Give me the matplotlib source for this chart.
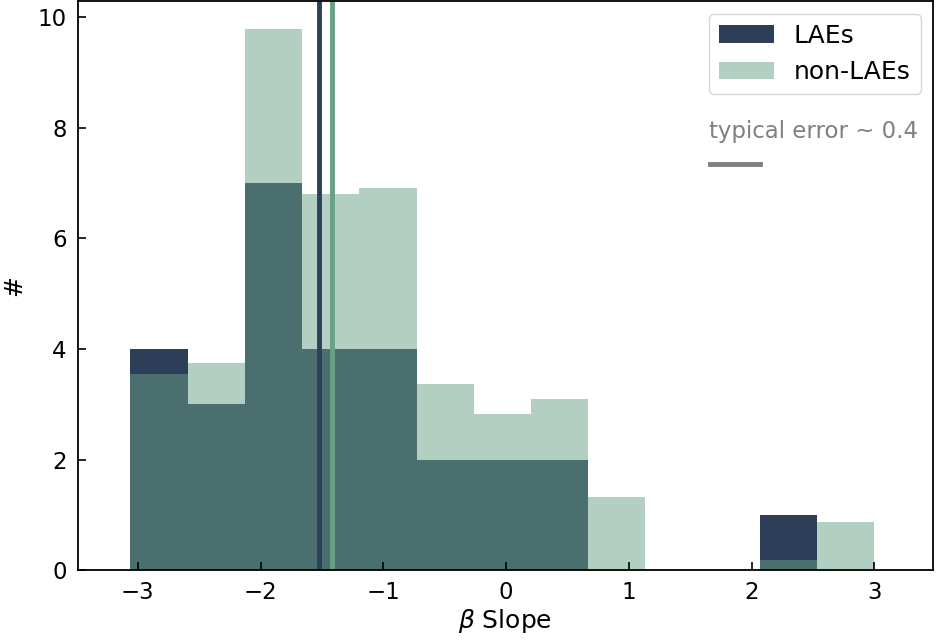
import numpy as np
import matplotlib.pyplot as plt

# histogram bins shared by both samples (13 bins from min to max slope)
bin_lo = -3.06
bin_hi = 3.0
n_bins = 13

# bar heights
lae_counts = [4, 3, 7, 4, 4, 2, 2, 2, 0, 0, 0, 1, 0]
nonlae_counts = [3.55, 3.75, 9.78, 6.81, 6.92, 3.37, 2.83, 3.10, 1.32, 0, 0, 0.18, 0.865]

lae_median = -1.52
nonlae_median = -1.42

err_text = "typical error ~ 0.4"
err_size = 0.4

lae_color = "#2c3e58"
nonlae_color = "#68a185"

edges = np.linspace(bin_lo, bin_hi, n_bins + 1)
centers = 0.5 * (edges[:-1] + edges[1:])

fig = plt.figure(figsize=(9.36, 6.42), dpi=100)
ax = fig.add_axes([0.083, 0.112, 0.914, 0.886])

ax.hist(centers, bins=edges, weights=lae_counts, color=lae_color, label="LAEs")
ax.hist(centers, bins=edges, weights=nonlae_counts, color=nonlae_color, alpha=0.5,
        label="non-LAEs")

ax.axvline(lae_median, color=lae_color, lw=3.5)
ax.axvline(nonlae_median, color=nonlae_color, lw=3.5)

# typical error bar
ax.text(1.655, 7.93, err_text, color="gray", fontsize=16.5, va="center", ha="left")
ax.plot([1.665, 1.665 + err_size], [7.35, 7.35], color="gray", lw=3.5)

ax.set_xlim(-3.49, 3.48)
ax.set_ylim(0, 10.29)
ax.set_xlabel(r"$\beta$ Slope", fontsize=18, labelpad=2)
ax.set_ylabel("#", fontsize=18, labelpad=8)
ax.tick_params(direction="in", labelsize=16.5, length=6, width=1.2, pad=8)
for s in ax.spines.values():
    s.set_linewidth(1.3)

ax.legend(loc="upper right", fontsize=18, frameon=True, handlelength=2.2,
          borderaxespad=0.5)

fig.savefig("out.png", dpi=100)
